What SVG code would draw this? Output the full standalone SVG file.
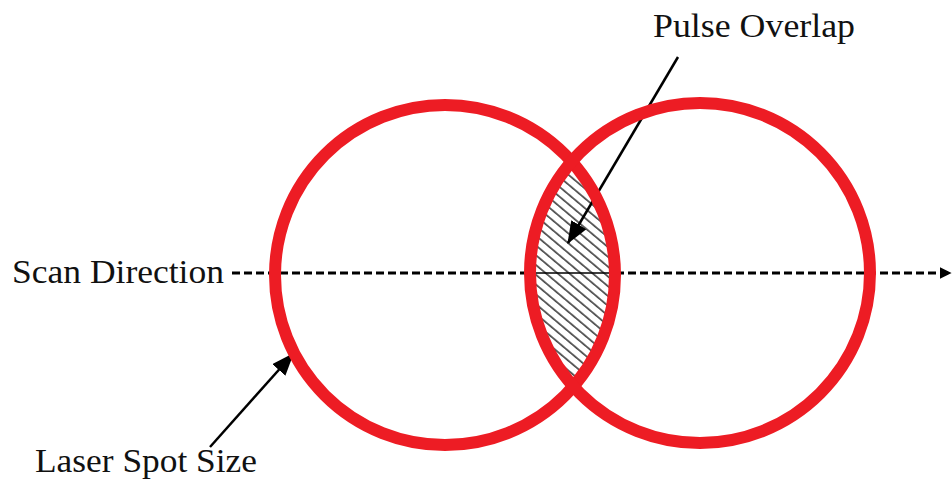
<svg xmlns="http://www.w3.org/2000/svg" width="952" height="481" viewBox="0 0 952 481">
  <style>
    .lbl { font-family: "Liberation Serif", "DejaVu Serif", serif; font-size: 34px; fill: #111; }
    .spot { fill: none; stroke: #ED1C24; stroke-width: 12; }
    .lead { stroke: #000; stroke-width: 2.5; fill: none; }
  </style>
  <defs>
    <pattern id="hatch" patternUnits="userSpaceOnUse" width="12" height="7.5" patternTransform="rotate(40)">
      <line x1="0" y1="1" x2="12" y2="1" stroke="#111" stroke-width="1.3"/>
    </pattern>
    <clipPath id="leftClip">
      <circle cx="445" cy="275" r="170"/>
    </clipPath>
    <marker id="ah" markerWidth="9" markerHeight="7" refX="8.5" refY="3.5" orient="auto" markerUnits="strokeWidth">
      <path d="M0,0 L9,3.5 L0,7 Z" fill="#000"/>
    </marker>
    <marker id="ahs" markerWidth="4" markerHeight="4" refX="3.8" refY="2" orient="auto" markerUnits="strokeWidth">
      <path d="M0,0 L4,2 L0,4 Z" fill="#000"/>
    </marker>
  </defs>

  <g id="overlap">
    <circle cx="700" cy="273" r="170" fill="url(#hatch)" clip-path="url(#leftClip)"/>
  </g>

  <g id="connectors">
    <line x1="232" y1="273" x2="530" y2="273" stroke="#000" stroke-width="3" stroke-dasharray="8,4"/>
    <line x1="530" y1="273" x2="616" y2="273" stroke="#000" stroke-width="1.5"/>
    <line x1="616" y1="273" x2="951" y2="273" stroke="#000" stroke-width="3" stroke-dasharray="8,4" marker-end="url(#ahs)"/>
    <line class="lead" x1="678" y1="57" x2="568" y2="243" marker-end="url(#ah)"/>
    <line class="lead" x1="210" y1="447" x2="293" y2="354" marker-end="url(#ah)"/>
  </g>

  <g id="spot1">
    <circle class="spot" cx="445" cy="275" r="170"/>
  </g>
  <g id="spot2">
    <circle class="spot" cx="700" cy="273" r="170"/>
  </g>

  <g id="label-scan">
    <text class="lbl" x="12" y="283" textLength="212" lengthAdjust="spacingAndGlyphs">Scan Direction</text>
  </g>
  <g id="label-overlap">
    <text class="lbl" x="653" y="37" textLength="202" lengthAdjust="spacingAndGlyphs">Pulse Overlap</text>
  </g>
  <g id="label-spot">
    <text class="lbl" x="35" y="472" textLength="222" lengthAdjust="spacingAndGlyphs">Laser Spot Size</text>
  </g>
</svg>
